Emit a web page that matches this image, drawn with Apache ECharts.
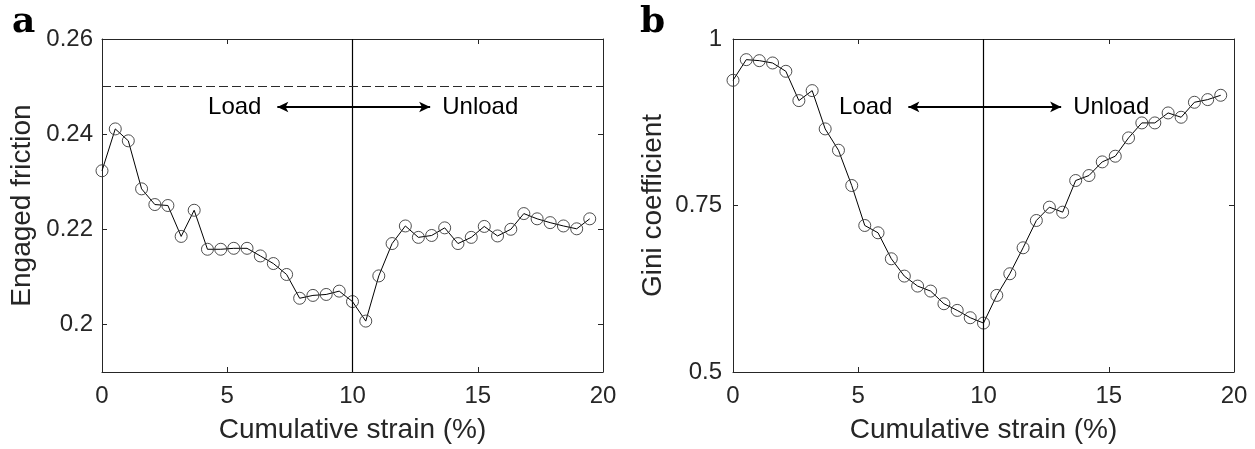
<!DOCTYPE html>
<html>
<head>
<meta charset="utf-8">
<script src="https://cdn.jsdelivr.net/npm/echarts@6/dist/echarts.min.js"></script>
<style>
html,body{margin:0;padding:0;background:#fff;}
#chart{width:1255px;height:449px;}
</style>
</head>
<body>
<div id="chart"></div>
<script>
// ---- data ----
const strain = [0, 0.53, 1.05, 1.58, 2.11, 2.63, 3.16, 3.68, 4.21, 4.74, 5.26, 5.79, 6.32, 6.84, 7.37, 7.89, 8.42, 8.95, 9.47, 10,
  10.53, 11.05, 11.58, 12.11, 12.63, 13.16, 13.68, 14.21, 14.74, 15.26, 15.79, 16.32, 16.84, 17.37, 17.89, 18.42, 18.95, 19.47];
const friction = [0.2323, 0.2411, 0.2386, 0.2285, 0.2252, 0.2250, 0.2185, 0.2240, 0.2158, 0.2158, 0.2160, 0.2160, 0.2144, 0.2128, 0.2105, 0.2055, 0.2061, 0.2063, 0.2070, 0.2048,
  0.2007, 0.2102, 0.2170, 0.2207, 0.2183, 0.2187, 0.2203, 0.2170, 0.2183, 0.2206, 0.2186, 0.2200, 0.2233, 0.2222, 0.2214, 0.2207, 0.2201, 0.2222];
const gini = [0.938, 0.969, 0.9675, 0.964, 0.9515, 0.9075, 0.9225, 0.865, 0.833, 0.78, 0.72, 0.709, 0.67, 0.644, 0.629, 0.6215, 0.6025, 0.5925, 0.5815, 0.5735,
  0.615, 0.6475, 0.6865, 0.7275, 0.7475, 0.74, 0.7875, 0.795, 0.8155, 0.824, 0.8515, 0.874, 0.874, 0.889, 0.8825, 0.905, 0.909, 0.9155];
const xTicks = [0, 5, 10, 15, 20];
const frictionTicks = [0.2, 0.22, 0.24, 0.26];
const giniTicks = [0.5, 0.75, 1];
const xTitle = 'Cumulative strain (%)';
const yTitles = ['Engaged friction', 'Gini coefficient'];
const panelLetters = ['a', 'b'];
const phaseLabels = ['Load', 'Unload'];
const frictionLimit = 0.25;
const switchStrain = 10;

// ---- styles ----
const FONT = '"Liberation Sans", Arial, Helvetica, sans-serif';
const AX = '#262626';
const grids = [
  { left: 102, top: 39, width: 501, height: 334 },
  { left: 733, top: 39, width: 501, height: 334 }
];

function xAxes(gi) {
  return [
    { type: 'value', gridIndex: gi, position: 'bottom', min: xTicks[0], max: xTicks[xTicks.length - 1], interval: 5,
      axisLine: { show: true, lineStyle: { color: AX, width: 1 } },
      axisTick: { show: true, inside: true, length: 5, lineStyle: { color: AX } },
      axisLabel: { show: true, color: '#262626', fontSize: 24, fontFamily: FONT, margin: 12 },
      splitLine: { show: false },
      name: xTitle, nameLocation: 'middle', nameGap: 44,
      nameTextStyle: { fontSize: 28, fontFamily: FONT, color: '#262626' } },
    { type: 'value', gridIndex: gi, position: 'top', min: xTicks[0], max: xTicks[xTicks.length - 1], interval: 5,
      axisLine: { show: true, onZero: false, lineStyle: { color: AX, width: 1 } },
      axisTick: { show: true, inside: true, length: 5, lineStyle: { color: AX } },
      axisLabel: { show: false }, splitLine: { show: false } }
  ];
}
function yAxes(gi, min, max, ticks, name, gap, lmargin) {
  const fmt = v => String(+(+v).toFixed(2));
  return [
    { type: 'value', gridIndex: gi, position: 'left', min: min, max: max,
      axisLine: { show: true, onZero: false, lineStyle: { color: AX, width: 1 } },
      axisTick: { show: true, inside: true, length: 5, lineStyle: { color: AX }, customValues: ticks },
      axisLabel: { show: true, color: '#262626', fontSize: 24, fontFamily: FONT, margin: lmargin, customValues: ticks, formatter: fmt },
      splitLine: { show: false },
      name: name, nameLocation: 'middle', nameGap: gap, nameRotate: 90,
      nameTextStyle: { fontSize: 28, fontFamily: FONT, color: '#262626' } },
    { type: 'value', gridIndex: gi, position: 'right', min: min, max: max,
      axisLine: { show: true, onZero: false, lineStyle: { color: AX, width: 1 } },
      axisTick: { show: true, inside: true, length: 5, lineStyle: { color: AX }, customValues: ticks },
      axisLabel: { show: false, customValues: ticks }, splitLine: { show: false } }
  ];
}

function pairs(ys) { return strain.map((x, i) => [x, ys[i]]); }

function seriesFor(gi, ys, arrowY, extraLines) {
  return {
    type: 'line', xAxisIndex: gi * 2, yAxisIndex: gi * 2, data: pairs(ys),
    symbol: 'circle', symbolSize: 12, showSymbol: true,
    itemStyle: { color: 'rgba(0,0,0,0)', borderColor: '#3a3a3a', borderWidth: 0.9 },
    lineStyle: { color: '#000', width: 1 },
    emphasis: { disabled: true },
    animation: false, silent: true, z: 3,
    markLine: {
      silent: true, animation: false, symbol: 'none',
      label: { show: false },
      data: [
        { xAxis: switchStrain, lineStyle: { color: '#000', width: 1.2, type: 'solid' } },
        [ { coord: [7.0, arrowY], symbol: 'arrow', symbolSize: [8, 11] },
          { coord: [13.1, arrowY], symbol: 'arrow', symbolSize: [8, 11], lineStyle: { color: '#000', width: 2, type: 'solid' } } ]
      ].concat(extraLines)
    }
  };
}

const chart = echarts.init(document.getElementById('chart'), null, { renderer: 'canvas' });
const arrowYs = [0.2457, 0.898];
const option = {
  animation: false,
  backgroundColor: '#fff',
  grid: grids,
  xAxis: xAxes(0).concat(xAxes(1)),
  yAxis: yAxes(0, 0.19, 0.26, frictionTicks, yTitles[0], 66, 9)
    .concat(yAxes(1, 0.5, 1, giniTicks, yTitles[1], 66, 11)),
  series: [
    seriesFor(0, friction, arrowYs[0], [
      { yAxis: frictionLimit, lineStyle: { color: '#2a2a2a', width: 1, type: [9, 4] } }
    ]),
    seriesFor(1, gini, arrowYs[1], [])
  ]
};
chart.setOption(option);

// annotations placed through the axes
const graphics = [];
const labelX = [5.3, 15.1];
[0, 1].forEach(gi => {
  phaseLabels.forEach((t, k) => {
    const p = chart.convertToPixel({ gridIndex: gi }, [labelX[k], arrowYs[gi]]);
    graphics.push({ type: 'text', x: p[0], y: p[1], silent: true,
      style: { text: t, font: '24px ' + FONT, fill: '#000', align: 'center', verticalAlign: 'middle' } });
  });
});
graphics.push({ type: 'text', x: 12, y: 41, silent: true,
  style: { text: panelLetters[0], font: 'bold 36px "DejaVu Serif", serif', fill: '#000', align: 'left', verticalAlign: 'bottom' } });
graphics.push({ type: 'text', x: 640, y: 41, silent: true,
  style: { text: panelLetters[1], font: 'bold 36px "DejaVu Serif", serif', fill: '#000', align: 'left', verticalAlign: 'bottom' } });
chart.setOption({ graphic: graphics });
</script>
</body>
</html>
